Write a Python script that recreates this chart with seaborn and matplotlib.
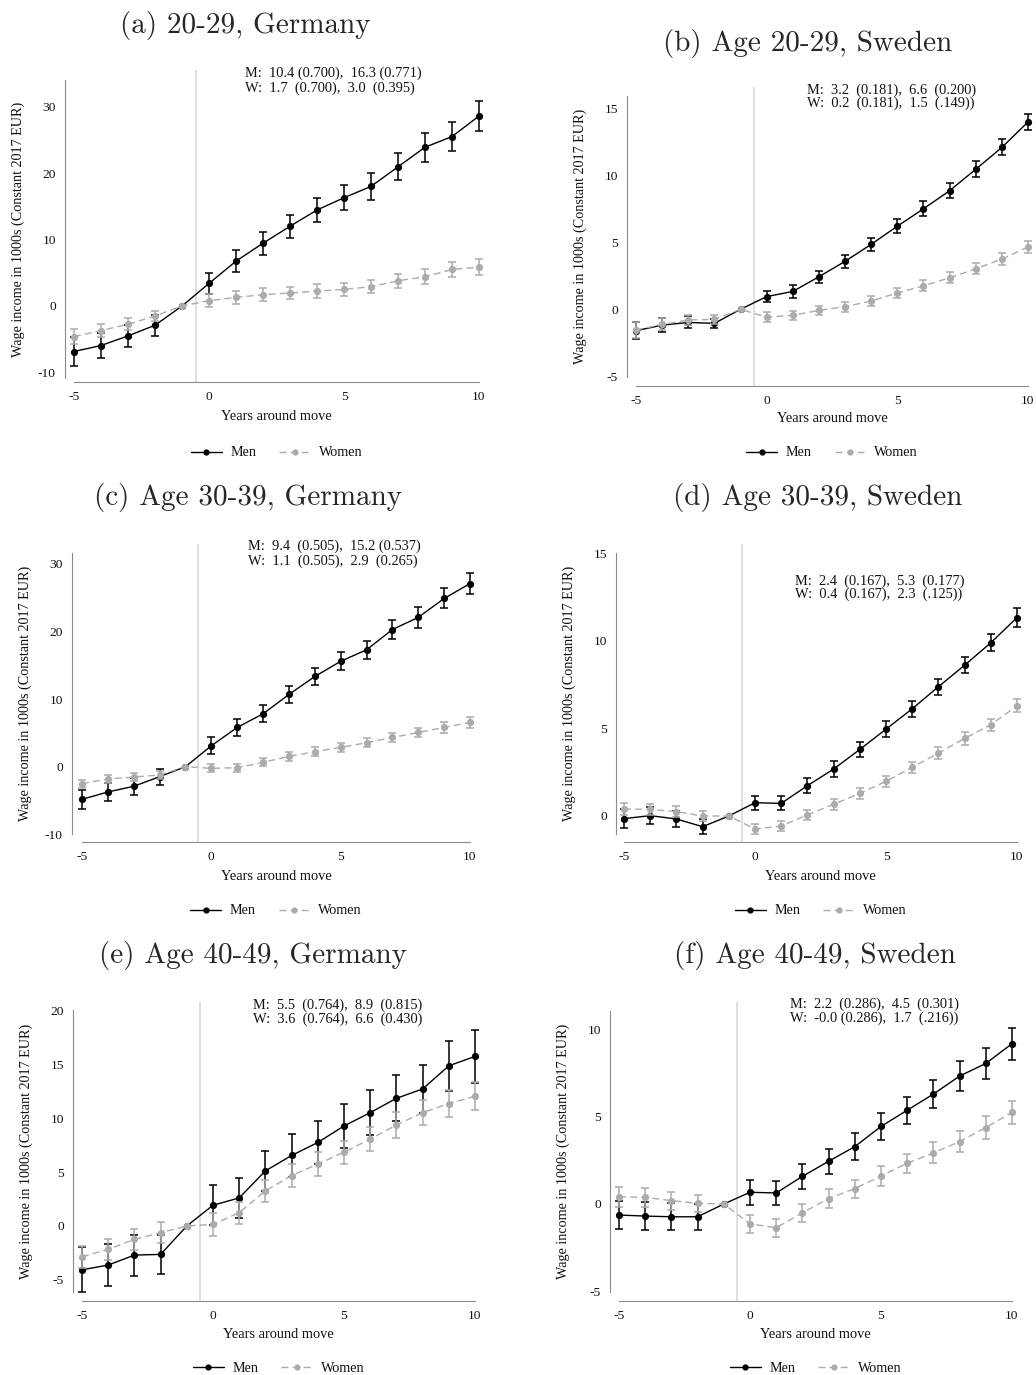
import matplotlib
matplotlib.use("Agg")
import matplotlib.pyplot as plt
from matplotlib.lines import Line2D
import numpy as np
import pandas as pd
import seaborn as sns

# ---------------------------------------------------------------- data
years = list(range(-5, 11))

# (a) Age 20-29, Germany
de2029_men = [-6.85, -5.95, -4.5, -2.9, 0, 3.4, 6.75, 9.45, 12.0, 14.45, 16.3, 18.0, 20.95, 23.9, 25.5, 28.6]
de2029_men_ci = [2.2, 1.9, 1.6, 1.6, 0, 1.6, 1.65, 1.7, 1.75, 1.85, 1.9, 2.0, 2.05, 2.15, 2.2, 2.3]
de2029_women = [-4.6, -3.7, -2.75, -1.5, 0, 0.8, 1.3, 1.7, 1.95, 2.25, 2.5, 2.9, 3.8, 4.4, 5.5, 5.85]
de2029_women_ci = [1.1, 0.95, 0.9, 0.8, 0, 0.95, 0.95, 0.95, 0.95, 1.0, 1.0, 1.0, 1.05, 1.1, 1.15, 1.2]

# (b) Age 20-29, Sweden
se2029_men = [-1.6, -1.18, -0.98, -1.05, 0, 0.95, 1.33, 2.43, 3.58, 4.85, 6.2, 7.5, 8.85, 10.45, 12.08, 13.98]
se2029_men_ci = [0.65, 0.55, 0.45, 0.35, 0, 0.42, 0.45, 0.45, 0.48, 0.5, 0.52, 0.55, 0.55, 0.6, 0.6, 0.63]
se2029_women = [-1.55, -1.13, -0.8, -0.75, 0, -0.58, -0.45, -0.08, 0.2, 0.62, 1.22, 1.75, 2.35, 3.02, 3.75, 4.65]
se2029_women_ci = [0.6, 0.45, 0.35, 0.35, 0, 0.35, 0.35, 0.35, 0.37, 0.38, 0.38, 0.4, 0.4, 0.42, 0.42, 0.45]

# (c) Age 30-39, Germany
de3039_men = [-4.83, -3.74, -2.9, -1.48, 0, 3.1, 5.81, 7.83, 10.69, 13.35, 15.6, 17.3, 20.3, 22.1, 24.9, 27.1]
de3039_men_ci = [1.4, 1.3, 1.25, 1.2, 0, 1.25, 1.25, 1.28, 1.3, 1.3, 1.35, 1.35, 1.42, 1.5, 1.48, 1.6]
de3039_women = [-2.5, -1.82, -1.53, -1.23, 0, -0.25, -0.15, 0.64, 1.53, 2.22, 2.86, 3.55, 4.33, 5.07, 5.81, 6.55]
de3039_women_ci = [0.6, 0.6, 0.6, 0.65, 0, 0.6, 0.6, 0.6, 0.62, 0.65, 0.65, 0.68, 0.7, 0.72, 0.75, 0.8]

# (d) Age 30-39, Sweden
se3039_men = [-0.15, 0.02, -0.17, -0.61, 0, 0.76, 0.72, 1.73, 2.68, 3.8, 4.96, 6.12, 7.38, 8.61, 9.89, 11.33]
se3039_men_ci = [0.53, 0.5, 0.45, 0.42, 0, 0.4, 0.4, 0.42, 0.44, 0.45, 0.45, 0.47, 0.46, 0.47, 0.48, 0.52]
se3039_women = [0.4, 0.38, 0.25, 0.0, 0, -0.74, -0.57, 0.06, 0.67, 1.29, 1.98, 2.78, 3.59, 4.43, 5.21, 6.29]
se3039_women_ci = [0.35, 0.32, 0.3, 0.3, 0, 0.3, 0.3, 0.3, 0.3, 0.3, 0.32, 0.33, 0.33, 0.35, 0.35, 0.38]

# (e) Age 40-49, Germany
de4049_men = [-4.07, -3.63, -2.7, -2.64, 0, 1.93, 2.61, 5.12, 6.55, 7.76, 9.29, 10.53, 11.86, 12.73, 14.88, 15.75]
de4049_men_ci = [2.08, 1.95, 1.9, 1.85, 0, 1.85, 1.86, 1.88, 1.97, 2.0, 2.0, 2.1, 2.15, 2.25, 2.35, 2.45]
de4049_women = [-2.86, -2.17, -1.24, -0.62, 0, 0.15, 1.24, 3.26, 4.69, 5.75, 6.86, 8.07, 9.38, 10.53, 11.37, 12.05]
de4049_women_ci = [1.0, 0.95, 0.95, 0.97, 0, 1.04, 1.02, 1.0, 1.05, 1.08, 1.08, 1.12, 1.2, 1.18, 1.23, 1.3]

# (f) Age 40-49, Sweden
se4049_men = [-0.63, -0.69, -0.73, -0.73, 0, 0.67, 0.63, 1.58, 2.44, 3.28, 4.43, 5.36, 6.28, 7.31, 8.03, 9.16]
se4049_men_ci = [0.81, 0.79, 0.76, 0.73, 0, 0.7, 0.7, 0.72, 0.73, 0.75, 0.76, 0.78, 0.81, 0.85, 0.87, 0.92]
se4049_women = [0.42, 0.38, 0.19, 0.04, 0, -1.13, -1.36, -0.5, 0.31, 0.88, 1.6, 2.33, 2.92, 3.57, 4.37, 5.23]
se4049_women_ci = [0.57, 0.55, 0.52, 0.5, 0, 0.5, 0.5, 0.52, 0.52, 0.52, 0.55, 0.55, 0.6, 0.6, 0.64, 0.68]

titles = ["(a) 20-29, Germany", "(b) Age 20-29, Sweden",
          "(c) Age 30-39, Germany", "(d) Age 30-39, Sweden",
          "(e) Age 40-49, Germany", "(f) Age 40-49, Sweden"]

notes = [
    ("M:  10.4 (0.700),  16.3 (0.771)", "W:  1.7  (0.700),  3.0  (0.395)"),
    ("M:  3.2  (0.181),  6.6  (0.200)", "W:  0.2  (0.181),  1.5  (.149))"),
    ("M:  9.4  (0.505),  15.2 (0.537)", "W:  1.1  (0.505),  2.9  (0.265)"),
    ("M:  2.4  (0.167),  5.3  (0.177)", "W:  0.4  (0.167),  2.3  (.125))"),
    ("M:  5.5  (0.764),  8.9  (0.815)", "W:  3.6  (0.764),  6.6  (0.430)"),
    ("M:  2.2  (0.286),  4.5  (0.301)", "W:  -0.0 (0.286),  1.7  (.216))"),
]

yticks = [[-10, 0, 10, 20, 30], [-5, 0, 5, 10, 15],
          [-10, 0, 10, 20, 30], [0, 5, 10, 15],
          [-5, 0, 5, 10, 15, 20], [-5, 0, 5, 10]]

series = [
    (de2029_men, de2029_men_ci, de2029_women, de2029_women_ci),
    (se2029_men, se2029_men_ci, se2029_women, se2029_women_ci),
    (de3039_men, de3039_men_ci, de3039_women, de3039_women_ci),
    (se3039_men, se3039_men_ci, se3039_women, se3039_women_ci),
    (de4049_men, de4049_men_ci, de4049_women, de4049_women_ci),
    (se4049_men, se4049_men_ci, se4049_women, se4049_women_ci),
]

# ---------------------------------------------------------------- layout (pixels)
W, H = 1036, 1375
geom = [
    dict(yx=65, xa=74, xb=479, y0=306.0, yt=(30, 106.7), ytop=80, ybot=378, xay=382, top=70, right=490,
         title=(245, 25), note=(245, 73, 88), xlab=417, leg=453),
    dict(yx=627, xa=636, xb=1028, y0=309.3, yt=(15, 108.3), ytop=96, ybot=377, xay=386, top=87, right=1036,
         title=(808, 44), note=(807, 90, 103), xlab=419, leg=453),
    dict(yx=72, xa=82, xb=470, y0=766.7, yt=(30, 564.0), ytop=553, ybot=834, xay=842, top=544, right=481,
         title=(248, 497), note=(248, 546, 561), xlab=877, leg=911),
    dict(yx=616, xa=624, xb=1017, y0=816.0, yt=(15, 553.3), ytop=553, ybot=834, xay=842, top=544, right=1030,
         title=(818, 497), note=(795, 581, 594), xlab=877, leg=911),
    dict(yx=73, xa=82, xb=475, y0=1226.0, yt=(20, 1010.7), ytop=1010, ybot=1292, xay=1301, top=1002, right=486,
         title=(253, 955), note=(253, 1005, 1019), xlab=1335, leg=1368),
    dict(yx=610, xa=619, xb=1012, y0=1204.0, yt=(10, 1029.0), ytop=1010.7, ybot=1292, xay=1301, top=1002, right=1024,
         title=(815, 955), note=(790, 1004, 1018), xlab=1335, leg=1368),
]

MEN_C = "#000000"
WOMEN_C = "#ababab"
AXIS_C = "#8a8a8a"
VLINE_C = "#d4d4d4"
TEXT_C = "#111111"

sns.set_style("white")
plt.rcParams["font.family"] = ["Liberation Serif", "DejaVu Serif"]
plt.rcParams["axes.unicode_minus"] = False

fig = plt.figure(figsize=(W / 100, H / 100), dpi=100)


def fx(x):
    return x / W


def fy(y):
    return 1 - y / H


for i, g in enumerate(geom):
    men, men_ci, women, women_ci = series[i]
    left, right, top, bottom = g["yx"], g["right"], g["top"], g["xay"]
    ax = fig.add_axes([fx(left), fy(bottom), (right - left) / W, (bottom - top) / H])

    xppu = (g["xb"] - g["xa"]) / 15.0
    xlim = (-5 - (g["xa"] - left) / xppu, 10 + (right - g["xb"]) / xppu)
    yval, ypix = g["yt"]
    yppu = (g["y0"] - ypix) / yval
    ylim = ((g["y0"] - bottom) / yppu, (g["y0"] - top) / yppu)
    ax.set_xlim(*xlim)
    ax.set_ylim(*ylim)

    # reference line between the last pre-move year and the move
    ax.axvline(-0.5, color=VLINE_C, lw=1.1, zorder=1)

    df = pd.DataFrame({
        "year": years * 2,
        "value": list(men) + list(women),
        "sex": ["Men"] * len(years) + ["Women"] * len(years),
    })
    sns.lineplot(data=df, x="year", y="value", hue="sex", style="sex",
                 hue_order=["Men", "Women"], style_order=["Men", "Women"],
                 palette={"Men": MEN_C, "Women": WOMEN_C},
                 dashes={"Men": "", "Women": (5, 3)},
                 markers={"Men": "o", "Women": "o"},
                 markersize=5.2, markeredgewidth=0, linewidth=1.0,
                 errorbar=None, legend=False, ax=ax)
    for ln, z in zip(ax.get_lines()[1:], (3, 4)):
        ln.set_zorder(z)
        ln.set_clip_on(False)

    yrs = np.array(years)
    for vals, ci, col, z in ((men, men_ci, MEN_C, 2.5), (women, women_ci, WOMEN_C, 3.5)):
        vals = np.asarray(vals)
        ci = np.asarray(ci)
        m = ci > 0
        eb = ax.errorbar(yrs[m], vals[m], yerr=ci[m], fmt="none", ecolor=col,
                         elinewidth=1.1, capsize=2.9, capthick=1.1, zorder=z)
        for art in eb.lines[1]:
            art.set_clip_on(False)
        for art in eb.lines[2]:
            art.set_clip_on(False)

    # axes styling
    for s in ("top", "right"):
        ax.spines[s].set_visible(False)
    for s in ("left", "bottom"):
        ax.spines[s].set_color(AXIS_C)
        ax.spines[s].set_linewidth(0.8)
    ax.spines["left"].set_bounds((g["y0"] - g["ybot"]) / yppu, (g["y0"] - g["ytop"]) / yppu)
    ax.spines["bottom"].set_bounds(-5, 10)

    ax.set_xticks(years)
    ax.set_xticklabels([str(y) if y % 5 == 0 else "" for y in years])
    ax.set_yticks(yticks[i])
    ax.set_yticklabels([str(v) for v in yticks[i]])
    ax.tick_params(axis="both", direction="out", length=4, width=0.8, color=AXIS_C,
                   labelsize=9.7, pad=2.5, labelcolor=TEXT_C)
    ax.grid(False)

    ax.set_xlabel("Years around move", fontsize=10.4, color=TEXT_C)
    ax.set_ylabel("Wage income in 1000s (Constant 2017 EUR)", fontsize=10.2, color=TEXT_C)
    ax.xaxis.set_label_coords(fx((g["xa"] + g["xb"]) / 2), fy(g["xlab"]), transform=fig.transFigure)
    ax.xaxis.label.set_va("center")
    ax.yaxis.set_label_coords(fx(left - 47), fy((g["ytop"] + g["ybot"]) / 2), transform=fig.transFigure)
    ax.yaxis.label.set_va("center")
    ax.yaxis.label.set_ha("center")

    n1, n2 = notes[i]
    nx, ny1, ny2 = g["note"]
    fig.text(fx(nx), fy(ny1), n1, fontsize=10.4, ha="left", va="center", color=TEXT_C)
    fig.text(fx(nx), fy(ny2), n2, fontsize=10.4, ha="left", va="center", color=TEXT_C)

    tx, ty = g["title"]
    fig.text(fx(tx), fy(ty), titles[i], family="cmr10", fontsize=21, ha="center", va="center")

    handles = [Line2D([], [], color=MEN_C, lw=1.0, marker="o", ms=4.5, mew=0),
               Line2D([], [], color=WOMEN_C, lw=1.0, ls=(0, (5, 3)), marker="o", ms=4.5, mew=0)]
    ax.legend(handles, ["Men", "Women"], loc="center", ncol=2, frameon=False,
              bbox_to_anchor=(fx((g["xa"] + g["xb"]) / 2), fy(g["leg"])),
              bbox_transform=fig.transFigure, fontsize=10.2, handlelength=2.2,
              handletextpad=0.6, columnspacing=1.6, labelcolor=TEXT_C,
              borderaxespad=0, borderpad=0)

fig.savefig("out.png", dpi=100)
